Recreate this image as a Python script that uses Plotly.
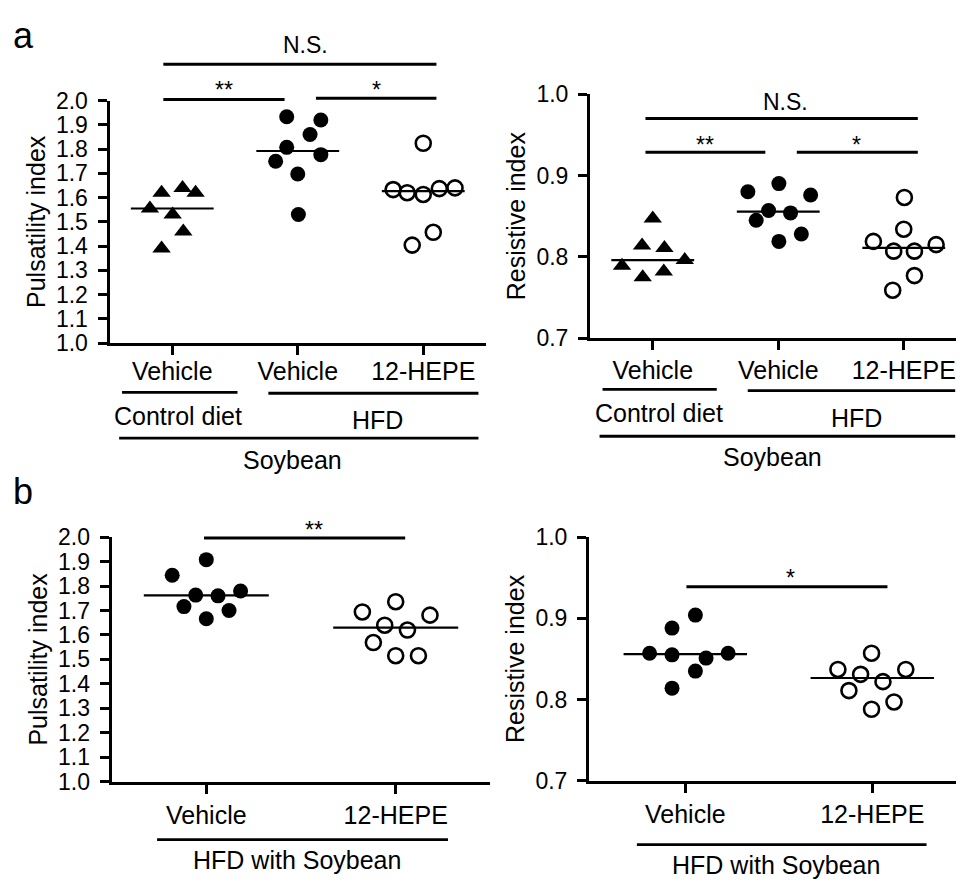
import numpy as np
import plotly.graph_objects as go

# The page body keeps the browser's default 8px margin, so the figure is drawn
# 16px smaller than the window and reference pixel positions are shifted by 8px.
PAGE_W, PAGE_H, BODY_MARGIN = 964, 889, 8
W, H = PAGE_W - 2 * BODY_MARGIN, PAGE_H - 2 * BODY_MARGIN
FONT = "Liberation Sans, Arial, Helvetica, sans-serif"

# ---------------- data ----------------
# Panel a - Pulsatility index
a_pi_ctrl_vehicle = [1.62, 1.64, 1.62, 1.555, 1.53, 1.46, 1.39]
a_pi_hfd_vehicle = [1.933, 1.92, 1.86, 1.807, 1.777, 1.75, 1.697, 1.53]
a_pi_hfd_hepe = [1.824, 1.633, 1.62, 1.613, 1.637, 1.64, 1.404, 1.457]
# Panel a - Resistive index
a_ri_ctrl_vehicle = [0.847, 0.814, 0.811, 0.789, 0.796, 0.775, 0.782]
a_ri_hfd_vehicle = [0.890, 0.880, 0.876, 0.857, 0.854, 0.845, 0.828, 0.819]
a_ri_hfd_hepe = [0.873, 0.834, 0.819, 0.815, 0.807, 0.807, 0.777, 0.759]
# Panel b - Pulsatility index
b_pi_vehicle = [1.908, 1.844, 1.763, 1.760, 1.780, 1.716, 1.700, 1.666]
b_pi_hepe = [1.736, 1.694, 1.681, 1.640, 1.620, 1.569, 1.515, 1.515]
# Panel b - Resistive index
b_ri_vehicle = [0.904, 0.888, 0.857, 0.855, 0.851, 0.857, 0.835, 0.814]
b_ri_hepe = [0.857, 0.837, 0.831, 0.837, 0.822, 0.811, 0.797, 0.788]

# horizontal scatter (jitter) of each point, in category units
a_pi_ctrl_vehicle_dx = [-0.085, 0.082, 0.186, -0.178, 0.003, 0.088, -0.085]
a_pi_hfd_vehicle_dx = [-0.088, 0.184, 0.098, -0.088, 0.184, -0.176, 0.0, 0.005]
a_pi_hfd_hepe_dx = [0.0, -0.24, -0.128, 0.0, 0.128, 0.253, -0.088, 0.08]
a_ri_ctrl_vehicle_dx = [0.0, -0.085, 0.093, -0.245, 0.255, -0.08, 0.088]
a_ri_hfd_vehicle_dx = [0.005, -0.242, 0.258, -0.077, 0.098, -0.176, 0.184, 0.005]
a_ri_hfd_hepe_dx = [0.005, 0.0, -0.242, 0.258, -0.08, 0.085, 0.085, -0.088]
b_pi_vehicle_dx = [0.0, -0.18, -0.056, 0.062, 0.181, -0.118, 0.12, 0.0]
b_pi_hepe_dx = [0.0, -0.176, 0.181, -0.058, 0.062, -0.118, 0.0, 0.12]
b_ri_vehicle_dx = [0.054, -0.071, -0.191, -0.071, 0.111, 0.229, 0.054, -0.071]
b_ri_hepe_dx = [-0.004, -0.184, -0.0625, 0.179, 0.057, -0.125, 0.116, -0.004]

# tick labels
a_tick_labels = ["Vehicle", "Vehicle", "12-HEPE"]
b_tick_labels = ["Vehicle", "12-HEPE"]
pi_ticks = [round(1.0 + 0.1 * i, 1) for i in range(11)]
ri_ticks = [0.7, 0.8, 0.9, 1.0]


# ---------------- layout geometry (reference-window pixels -> paper) ----------------
def X(px):
    return min(1.0, max(0.0, (px - BODY_MARGIN) / W))


def Y(py):
    return 1 - (py - BODY_MARGIN) / H


panels = {
    "a_pi": dict(xa="x", ya="y", xdom=[X(109.5), X(486)], ydom=[Y(340), Y(90)],
                 xr=[0.5, 3.5], yr=[1.0, 2.0], lab_off=-5),
    "a_ri": dict(xa="x2", ya="y2", xdom=[X(590), X(956)], ydom=[Y(335), Y(83.3)],
                 xr=[0.5, 0.5 + (956 - 590) / 125.5], yr=[0.7, 1.0], lab_off=-1),
    "b_pi": dict(xa="x3", ya="y3", xdom=[X(111.6), X(490.4)], ydom=[Y(792), Y(540)],
                 xr=[0.5, 2.5], yr=[1.0, 2.0], lab_off=0),
    "b_ri": dict(xa="x4", ya="y4", xdom=[X(589), X(956)], ydom=[Y(791), Y(540)],
                 xr=[0.485, 0.485 + (956 - 589) / 187.0], yr=[0.7, 1.0], lab_off=0),
}


def paper_y(p, v):
    d0, d1 = panels[p]["ydom"]
    r0, r1 = panels[p]["yr"]
    return d0 + (v - r0) / (r1 - r0) * (d1 - d0)


fig = go.Figure()

TRI = dict(symbol="triangle-up", size=16, color="black", line=dict(width=0))
DOT = dict(symbol="circle", size=15, color="black", line=dict(width=0))
OPEN = dict(symbol="circle-open", size=15, color="black", line=dict(width=2.6, color="black"))


def add_group(p, center, values, dx, marker):
    pa = panels[p]
    fig.add_trace(go.Scatter(
        x=[center + d for d in dx], y=values, mode="markers", marker=marker,
        xaxis=pa["xa"], yaxis=pa["ya"], hoverinfo="y", showlegend=False, cliponaxis=False))
    med = float(np.median(values))
    fig.add_trace(go.Scatter(
        x=[center - 0.33, center + 0.33], y=[med, med], mode="lines",
        line=dict(color="black", width=2.2), xaxis=pa["xa"], yaxis=pa["ya"],
        hoverinfo="skip", showlegend=False))


add_group("a_pi", 1, a_pi_ctrl_vehicle, a_pi_ctrl_vehicle_dx, TRI)
add_group("a_pi", 2, a_pi_hfd_vehicle, a_pi_hfd_vehicle_dx, DOT)
add_group("a_pi", 3, a_pi_hfd_hepe, a_pi_hfd_hepe_dx, OPEN)
add_group("a_ri", 1, a_ri_ctrl_vehicle, a_ri_ctrl_vehicle_dx, TRI)
add_group("a_ri", 2, a_ri_hfd_vehicle, a_ri_hfd_vehicle_dx, DOT)
add_group("a_ri", 3, a_ri_hfd_hepe, a_ri_hfd_hepe_dx, OPEN)
add_group("b_pi", 1, b_pi_vehicle, b_pi_vehicle_dx, DOT)
add_group("b_pi", 2, b_pi_hepe, b_pi_hepe_dx, OPEN)
add_group("b_ri", 1, b_ri_vehicle, b_ri_vehicle_dx, DOT)
add_group("b_ri", 2, b_ri_hepe, b_ri_hepe_dx, OPEN)

# ---------------- axes ----------------
axis_common = dict(showline=True, linecolor="black", linewidth=3, ticks="outside",
                   ticklen=9, tickwidth=3, tickcolor="black", showgrid=False,
                   zeroline=False, fixedrange=True)

layout_axes = {}
for i, (p, pa) in enumerate(panels.items()):
    sfx = "" if i == 0 else str(i + 1)
    is_a = p.startswith("a")
    is_pi = p.endswith("pi")
    layout_axes["xaxis" + sfx] = dict(
        axis_common, domain=pa["xdom"], range=pa["xr"], anchor=pa["ya"],
        tickvals=[1, 2, 3] if is_a else [1, 2],
        ticktext=a_tick_labels if is_a else b_tick_labels,
        ticklabelstandoff=pa["lab_off"],
        tickfont=dict(family=FONT, size=25, color="black"))
    yt = pi_ticks if is_pi else ri_ticks
    layout_axes["yaxis" + sfx] = dict(
        axis_common, domain=pa["ydom"], range=pa["yr"], anchor=pa["xa"],
        tickvals=yt, ticktext=["%.1f" % v for v in yt], ticklabelstandoff=5,
        tickfont=dict(family=FONT, size=23, color="black"),
        title=dict(text="Pulsatility index" if is_pi else "Resistive index",
                   font=dict(family=FONT, size=25, color="black"), standoff=4))

shapes = []
annotations = []


def hline(xa, x0, x1, y, width=3):
    shapes.append(dict(type="line", xref=xa, yref="paper", x0=x0, x1=x1, y0=y, y1=y,
                       line=dict(color="black", width=width)))


def text(xa, x, y, s, size=23):
    annotations.append(dict(xref=xa, yref="paper", x=x, y=y, text=s, showarrow=False,
                            xanchor="center", yanchor="middle",
                            font=dict(family=FONT, size=size, color="black")))


# significance brackets
hline("x", 0.929, 1.895, paper_y("a_pi", 2.004))
hline("x", 2.145, 3.105, paper_y("a_pi", 2.009))
hline("x", 0.929, 3.105, paper_y("a_pi", 2.150))
text("x", 1.413, paper_y("a_pi", 2.044), "**")
text("x", 2.624, paper_y("a_pi", 2.044), "*")
text("x", 2.062, paper_y("a_pi", 2.227), "N.S.")

hline("x2", 0.942, 1.897, paper_y("a_ri", 0.9285))
hline("x2", 2.148, 3.112, paper_y("a_ri", 0.9285))
hline("x2", 0.942, 3.112, paper_y("a_ri", 0.970))
text("x2", 1.42, paper_y("a_ri", 0.938), "**")
text("x2", 2.626, paper_y("a_ri", 0.938), "*")
text("x2", 2.06, paper_y("a_ri", 0.990), "N.S.")

hline("x3", 0.988, 2.05, paper_y("b_pi", 1.997))
text("x3", 1.57, paper_y("b_pi", 2.028), "**")

hline("x4", 1.006, 2.081, paper_y("b_ri", 0.939))
text("x4", 1.564, paper_y("b_ri", 0.950), "*")

# group labels under x axes
hline("x", 0.60, 1.52, Y(390.7), 2.8)
hline("x", 1.766, 3.44, Y(391.7), 2.8)
hline("x", 0.577, 3.44, Y(438), 2.8)
text("x", 1.046, Y(415), "Control diet", 25)
text("x", 2.634, Y(419), "HFD", 25)
text("x", 1.957, Y(460), "Soybean", 25)

hline("x2", 0.60, 1.51, Y(387.7), 2.8)
hline("x2", 1.757, 3.41, Y(389), 2.8)
hline("x2", 0.576, 3.41, Y(436), 2.8)
text("x2", 1.053, Y(412), "Control diet", 25)
text("x2", 2.623, Y(417), "HFD", 25)
text("x2", 1.953, Y(457), "Soybean", 25)

hline("x3", 0.74, 2.276, Y(851.7), 2.8)
text("x3", 1.479, Y(873), "HFD with Soybean", 25)
hline("x4", 0.741, 2.29, Y(857), 2.8)
text("x4", 1.484, Y(878), "HFD with Soybean", 25)

# panel letters
for letter, yy in (("a", 23), ("b", 493)):
    annotations.append(dict(xref="paper", yref="paper", x=X(23), y=Y(yy), text=letter,
                            showarrow=False, xanchor="center", yanchor="middle",
                            font=dict(family=FONT, size=36, color="black")))

fig.update_layout(
    width=W, height=H, margin=dict(l=0, r=0, t=0, b=0),
    paper_bgcolor="white", plot_bgcolor="white", showlegend=False,
    font=dict(family=FONT, color="black"),
    shapes=shapes, annotations=annotations, **layout_axes)

fig.write_html("out.html")
